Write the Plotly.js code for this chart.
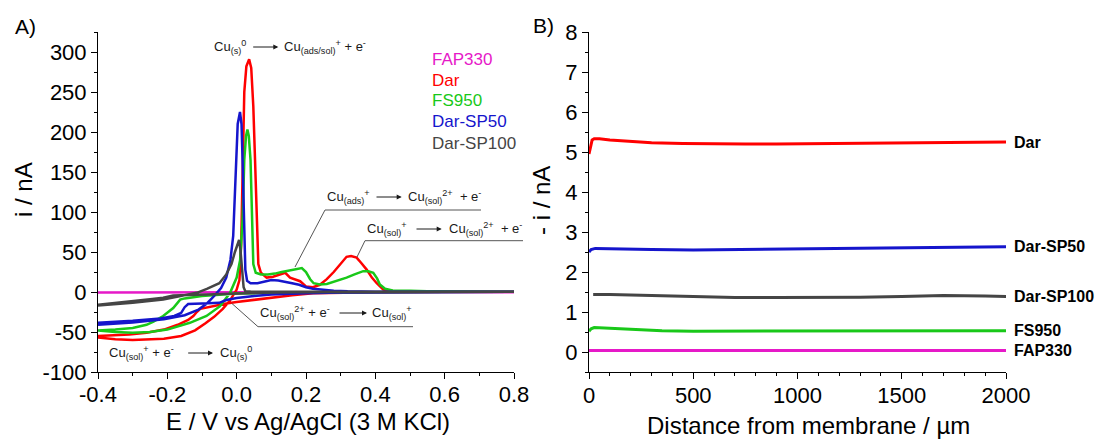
<!DOCTYPE html>
<html>
<head>
<meta charset="utf-8">
<script src="https://cdn.plot.ly/plotly-3.0.1.min.js"></script>
<style>html,body{margin:0;padding:0;background:#fff;}#chart{width:1097px;height:439px;}</style>
</head>
<body>
<div id="chart"></div>
<script>
// ---------- Panel A: cyclic voltammograms (E / V, i / nA) ----------
const seriesNames = ["FAP330", "Dar", "FS950", "Dar-SP50", "Dar-SP100"];
const seriesColors = ["#e619c8", "#ff0000", "#19c819", "#1515cc", "#454545"];

const fap_E = [-0.4, -0.2, 0.0, 0.2, 0.4, 0.6, 0.8];
const fap_I = [-0.5, -0.6, -0.8, -0.6, -0.4, -0.3, -0.2];

const dar_E_up = [-0.4,-0.35,-0.3,-0.25,-0.21,-0.16,-0.12,-0.09,-0.065,-0.04,-0.02,0.0,0.008,0.013,0.017,0.022,0.028,0.036,0.042,0.048,0.053,0.058,0.0625,0.07,0.0865,0.105,0.125,0.14,0.154,0.17,0.183,0.2,0.22,0.24,0.26,0.28,0.3,0.317,0.33,0.346,0.36,0.375,0.39,0.404,0.423,0.45,0.5,0.6,0.7,0.8];
const dar_I_up = [-57,-59,-60,-59.5,-58.5,-55,-48,-39,-31,-21,-11,3,15,60,165,250,282,291,280,232,165,80,35,24,18,19,22,24,18,15,13.5,7,6,9,16,25,36,44,45,43,36,28,18,11,3,1.2,0.8,0.5,0.4,0.3];
const dar_E_down = [0.8,0.6,0.4,0.3,0.22,0.16,0.1,0.05,0.0,-0.03,-0.06,-0.09,-0.105,-0.115,-0.125,-0.14,-0.17,-0.21,-0.26,-0.31,-0.36,-0.4];
const dar_I_down = [0.3,0.2,-0.3,-0.8,-1.5,-4,-7,-10,-12.5,-14.5,-17,-19.5,-21,-25,-30,-35,-41,-47,-51,-53,-54,-55];

const fs_E_up = [-0.4,-0.35,-0.3,-0.25,-0.2,-0.135,-0.087,-0.048,-0.019,0.0,0.01,0.017,0.022,0.027,0.031,0.035,0.04,0.044,0.048,0.055,0.07,0.09,0.11,0.13,0.15,0.17,0.188,0.2,0.212,0.222,0.24,0.26,0.29,0.317,0.34,0.365,0.38,0.394,0.405,0.413,0.428,0.45,0.5,0.55,0.8];
const fs_I_up = [-48,-50,-51,-50,-47,-38.5,-30,-17.7,-1,18,40,90,165,195,203,195,165,90,35,24,22,22,23,25,27,29,30,25,16,11,9.5,10,14,18,22,26,26,24,17,9.5,4,2,1.5,1,0.3];
const fs_E_down = [0.8,0.3,0.2,0.1,0.0,-0.05,-0.1,-0.15,-0.163,-0.183,-0.212,-0.24,-0.26,-0.3,-0.35,-0.4];
const fs_I_down = [0.3,0,-0.5,-1.2,-2,-3.5,-5,-8,-9.5,-20,-30,-37,-41,-45,-47,-48];

const sp50_E_up = [-0.4,-0.3,-0.21,-0.15,-0.11,-0.085,-0.065,-0.045,-0.03,-0.018,-0.01,-0.005,-0.002,0.003,0.0096,0.014,0.017,0.021,0.025,0.03,0.04,0.06,0.08,0.1,0.12,0.14,0.16,0.18,0.2,0.22,0.25,0.28,0.32,0.4,0.8];
const sp50_I_up = [-41,-38,-34,-29,-22,-14,-5,5,18,40,70,120,165,210,225,210,165,80,28,14,11,11,13,15,14.5,13,11,9,6,4,2.5,1.5,0.8,0.3,0.2];
const sp50_E_down = [0.8,0.5,0.3,0.2,0.1,0.05,0.0,-0.03,-0.05,-0.1,-0.14,-0.15,-0.16,-0.18,-0.22,-0.3,-0.4];
const sp50_I_down = [0.2,0,-0.5,-1.5,-3,-5,-7.5,-10,-13.5,-14.5,-15,-19,-26,-30,-33,-36,-38.5];

const sp100_E_up = [-0.4,-0.3,-0.212,-0.15,-0.115,-0.086,-0.05,-0.03,-0.015,-0.005,0.002,0.007,0.011,0.015,0.02,0.025,0.04,0.1,0.3,0.8];
const sp100_I_up = [-17,-13.5,-9.4,-4.5,-1,4,11,22,35,50,60,65,52,28,6,1,0.5,0.3,0.2,0.2];
const sp100_E_down = [0.8,0.3,0.1,0.0,-0.1,-0.16,-0.183,-0.212,-0.25,-0.3,-0.35,-0.4];
const sp100_I_down = [0.2,0,-0.5,-1.5,-3,-4,-4.4,-7.3,-9,-11.5,-13.5,-16];

const xA_ticks = [-0.4, -0.2, 0.0, 0.2, 0.4, 0.6, 0.8];
const xA_labels = ["-0.4", "-0.2", "0.0", "0.2", "0.4", "0.6", "0.8"];
const yA_ticks = [-100, -50, 0, 50, 100, 150, 200, 250, 300];
const yA_labels = ["-100", "-50", "0", "50", "100", "150", "200", "250", "300"];

// ---------- Panel B: current vs distance ----------
const dar_d = [0,8,15,25,50,100,200,300,450,600,750,900,1100,1300,1500,1700,1900,2000];
const dar_i = [4.95,5.1,5.3,5.33,5.33,5.3,5.26,5.23,5.21,5.2,5.2,5.2,5.21,5.22,5.23,5.23,5.24,5.25];
const sp50_d = [0,10,30,100,300,500,700,1000,1300,1600,1900,2000];
const sp50_i = [2.5,2.56,2.59,2.58,2.56,2.55,2.56,2.58,2.59,2.6,2.62,2.63];
const sp100_d = [20,100,300,500,700,900,1100,1300,1500,1700,1900,2000];
const sp100_i = [1.44,1.44,1.41,1.38,1.36,1.36,1.36,1.37,1.39,1.41,1.4,1.39];
const fs_d = [0,10,25,60,150,250,350,500,1000,1500,2000];
const fs_i = [0.52,0.58,0.61,0.6,0.57,0.55,0.53,0.52,0.52,0.52,0.53];
const fap_d = [0,500,1000,1500,2000];
const fap_i = [0.04,0.04,0.04,0.04,0.04];

const xB_ticks = [0, 500, 1000, 1500, 2000];
const yB_ticks = [0, 1, 2, 3, 4, 5, 6, 7, 8];

// ---------- geometry helpers (pixel -> paper) ----------
const W = 1097, H = 439, TOP = 32, BOT = 372;
const px = x => x / W;
const py = y => (BOT - y) / (BOT - TOP);
const FONT = "Liberation Sans, Arial, Helvetica, sans-serif";

const cvA = [
  [fap_E, fap_I, null, null],
  [dar_E_up, dar_I_up, dar_E_down, dar_I_down],
  [fs_E_up, fs_I_up, fs_E_down, fs_I_down],
  [sp50_E_up, sp50_I_up, sp50_E_down, sp50_I_down],
  [sp100_E_up, sp100_I_up, sp100_E_down, sp100_I_down]
];
const distB = [
  [fap_d, fap_i], [dar_d, dar_i], [fs_d, fs_i], [sp50_d, sp50_i], [sp100_d, sp100_i]
];

const traces = [];
cvA.forEach((s, k) => {
  traces.push({
    x: s[2] ? s[0].concat(s[2]) : s[0],
    y: s[3] ? s[1].concat(s[3]) : s[1],
    type: "scatter", mode: "lines", name: seriesNames[k],
    line: {color: seriesColors[k], width: 2.5},
    xaxis: "x", yaxis: "y", hoverinfo: "skip"
  });
});
distB.forEach((s, k) => {
  traces.push({
    x: s[0], y: s[1], type: "scatter", mode: "lines", name: seriesNames[k],
    line: {color: seriesColors[k], width: 3},
    xaxis: "x2", yaxis: "y2", hoverinfo: "skip"
  });
});

const axBase = {
  showline: true, linecolor: "#000", linewidth: 1, mirror: false,
  ticks: "outside", ticklen: 6, tickwidth: 1, tickcolor: "#000",
  showgrid: false, zeroline: false, tickfont: {family: FONT, size: 22, color: "#000"},
  fixedrange: true
};

const annotations = [];
const shapes = [];
function txt(x, y, text, opt) {
  annotations.push(Object.assign({
    x: px(x), y: py(y), xref: "paper", yref: "paper", text: text, showarrow: false,
    xanchor: "left", yanchor: "middle", font: {family: FONT, size: 13, color: "#1a1a1a"}
  }, opt || {}));
}
function arrow(x0, x1, y) {
  annotations.push({
    x: px(x1), y: py(y), xref: "paper", yref: "paper", text: "", showarrow: true,
    ax: x0 - x1, ay: 0, arrowhead: 2, arrowsize: 1, arrowwidth: 1, arrowcolor: "#1a1a1a", standoff: 0
  });
}
function seg(x0, y0, x1, y1) {
  shapes.push({type: "line", xref: "paper", yref: "paper", x0: px(x0), y0: py(y0), x1: px(x1), y1: py(y1),
    line: {color: "#555", width: 1}});
}

// reaction labels
txt(211.7, 47, "Cu<sub>(s)</sub><sup>0</sup>"); arrow(251.7, 278.3, 47);
txt(281.7, 47, "Cu<sub>(ads/sol)</sub><sup>+</sup> + e<sup>-</sup>");

txt(325, 197, "Cu<sub>(ads)</sub><sup>+</sup>"); arrow(375, 401.7, 197);
txt(406, 197, "Cu<sub>(sol)</sub><sup>2+</sup>  + e<sup>-</sup>");
seg(325, 210, 481, 210); seg(325, 210, 295, 267);

txt(365, 229, "Cu<sub>(sol)</sub><sup>+</sup>"); arrow(415, 441.7, 229);
txt(446.7, 229, "Cu<sub>(sol)</sub><sup>2+</sup>  + e<sup>-</sup>");
seg(365, 240.7, 523, 240.7); seg(365, 240.7, 357, 257);

txt(258, 313, "Cu<sub>(sol)</sub><sup>2+</sup> + e<sup>-</sup>"); arrow(338, 367, 313);
txt(370, 313, "Cu<sub>(sol)</sub><sup>+</sup>");
seg(258, 326.7, 413, 326.7); seg(258, 326.7, 231.7, 303.3);

txt(106.7, 353, "Cu<sub>(sol)</sub><sup>+</sup> + e<sup>-</sup>"); arrow(186.7, 213, 353);
txt(218, 353, "Cu<sub>(s)</sub><sup>0</sup>");

// panel A colored legend text
const legY = [59, 80, 101, 122, 143];
seriesNames.forEach((n, k) => {
  txt(430, legY[k], n, {font: {family: FONT, size: 17, color: seriesColors[k]}});
});

// panel B end labels (at the last point of each series)
distB.forEach((s, k) => {
  annotations.push({
    x: s[0][s[0].length - 1], y: s[1][s[1].length - 1], xref: "x2", yref: "y2",
    text: "<b>" + seriesNames[k] + "</b>", showarrow: false, xanchor: "left", yanchor: "middle",
    xshift: 6, font: {family: FONT, size: 16, color: "#000"}
  });
});

// panel tags and axis titles
txt(12.6, 26, "A)", {font: {family: FONT, size: 21, color: "#000"}});
txt(531, 25, "B)", {font: {family: FONT, size: 21, color: "#000"}});
txt(23, 190, "i / nA", {xanchor: "center", textangle: -90, font: {family: FONT, size: 24, color: "#000"}});
txt(541, 201, "- i / nA", {xanchor: "center", textangle: -90, font: {family: FONT, size: 24, color: "#000"}});
txt(308, 421, "E / V vs Ag/AgCl (3 M KCl)", {xanchor: "center", font: {family: FONT, size: 24, color: "#000"}});
txt(808, 426, "Distance from membrane / \u00b5m", {xanchor: "center", font: {family: FONT, size: 24, color: "#000"}});

const layout = {
  width: W, height: H,
  margin: {l: 0, r: 0, t: TOP, b: H - BOT, pad: 0},
  paper_bgcolor: "#fff", plot_bgcolor: "rgba(0,0,0,0)",
  showlegend: false,
  font: {family: FONT, color: "#000"},
  xaxis: Object.assign({}, axBase, {
    domain: [98 / W, 514 / W], range: [-0.4, 0.8], anchor: "y", ticklabelstandoff: -3,
    tickmode: "array", tickvals: xA_ticks, ticktext: xA_labels,
    minor: {tickmode: "linear", tick0: -0.4, dtick: 0.1, ticklen: 3, ticks: "outside", tickcolor: "#000"}
  }),
  yaxis: Object.assign({}, axBase, {
    domain: [0, 1], range: [-100, 325], anchor: "x",
    tickmode: "array", tickvals: yA_ticks, ticktext: yA_labels,
    minor: {tickmode: "linear", tick0: -100, dtick: 25, ticklen: 3, ticks: "outside", tickcolor: "#000"}
  }),
  xaxis2: Object.assign({}, axBase, {
    domain: [589 / W, 1006 / W], range: [0, 2000], anchor: "y2", ticklabelstandoff: -2,
    tickmode: "array", tickvals: xB_ticks,
    minor: {tickmode: "linear", tick0: 0, dtick: 100, ticklen: 3, ticks: "outside", tickcolor: "#000"}
  }),
  yaxis2: Object.assign({}, axBase, {
    domain: [0, 1], range: [-0.5, 8], anchor: "x2",
    tickmode: "array", tickvals: yB_ticks,
    minor: {tickmode: "linear", tick0: 0, dtick: 0.5, ticklen: 3, ticks: "outside", tickcolor: "#000"}
  }),
  annotations: annotations,
  shapes: shapes
};

Plotly.newPlot("chart", traces, layout, {displayModeBar: false, staticPlot: true});
</script>
</body>
</html>
